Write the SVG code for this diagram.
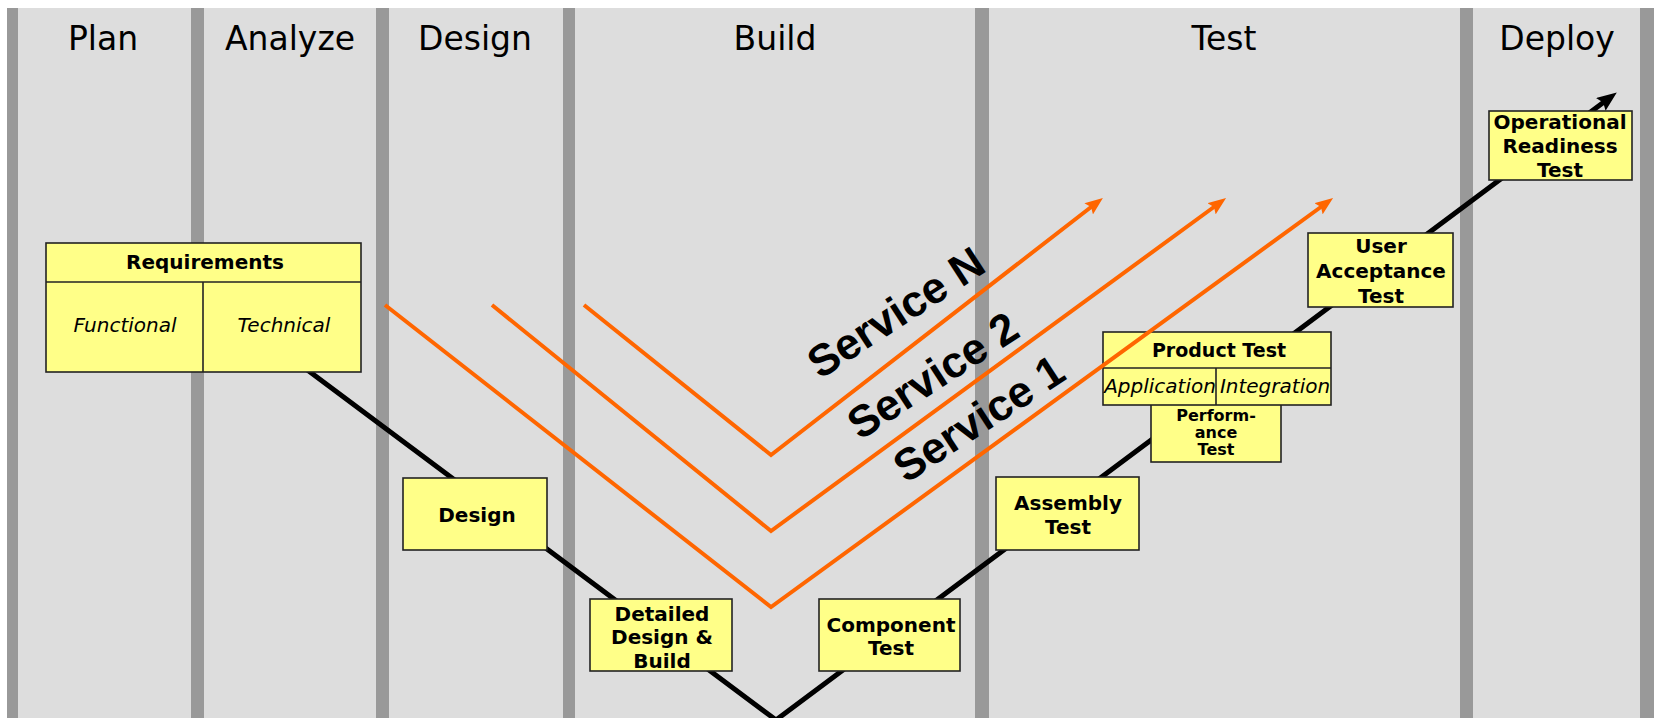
<svg xmlns="http://www.w3.org/2000/svg" width="1654" height="718" viewBox="0 0 1654 718">
<defs>
<style>
.bg{fill:#dddddd}
.div{fill:#999999}
.hdr{font-family:"DejaVu Sans",Verdana,sans-serif;font-size:33px;fill:#000;text-anchor:middle}
.box{fill:#ffff88;stroke:#222;stroke-width:1.6}
.sep{stroke:#222;stroke-width:1.6;fill:none}
.lbl{font-family:"DejaVu Sans",Verdana,sans-serif;font-size:20px;font-weight:bold;fill:#000;text-anchor:middle}
.sm{font-size:16px}
.it{font-family:"DejaVu Sans",Verdana,sans-serif;font-size:20px;font-style:italic;fill:#000;text-anchor:middle}
.blk{fill:none;stroke:#000;stroke-width:5;stroke-linejoin:miter}
.org{fill:none;stroke:#ff6600;stroke-width:4;stroke-linejoin:miter;stroke-miterlimit:10}
.svc{font-family:"Liberation Sans",Arial,sans-serif;font-size:44px;font-weight:bold;fill:#000;text-anchor:middle}
</style>
<marker id="ahO" markerUnits="userSpaceOnUse" viewBox="0 0 18 14" refX="8" refY="7" markerWidth="18" markerHeight="14" orient="auto">
<path d="M0,0 L18,7 L0,14 L3,7 Z" fill="#ff6600"/>
</marker>
<marker id="ahB" markerUnits="userSpaceOnUse" viewBox="0 0 20 16" refX="9" refY="8" markerWidth="20" markerHeight="16" orient="auto">
<path d="M0,0 L20,8 L0,16 L3,8 Z" fill="#000"/>
</marker>
</defs>
<rect x="0" y="0" width="1654" height="718" fill="#ffffff"/>
<g id="lanes">
<rect class="bg" x="7" y="8" width="1647" height="710"/>
<rect class="div" x="7" y="8" width="11" height="710"/>
<rect class="div" x="191" y="8" width="13" height="710"/>
<rect class="div" x="376" y="8" width="13" height="710"/>
<rect class="div" x="563" y="8" width="12" height="710"/>
<rect class="div" x="975" y="8" width="14" height="710"/>
<rect class="div" x="1460" y="8" width="13" height="710"/>
<rect class="div" x="1640" y="8" width="14" height="710"/>
<text class="hdr" x="103" y="50">Plan</text>
<text class="hdr" x="290" y="50">Analyze</text>
<text class="hdr" x="475" y="50">Design</text>
<text class="hdr" x="775" y="50">Build</text>
<text class="hdr" x="1224" y="50">Test</text>
<text class="hdr" x="1557" y="50">Deploy</text>
</g>
<g id="connectors">
<path class="blk" d="M290,357 L776,720 L1608,99" marker-end="url(#ahB)"/>
</g>
<g id="requirements">
<rect class="box" x="46" y="243" width="315" height="129"/>
<line class="sep" x1="46" y1="282" x2="361" y2="282"/>
<line class="sep" x1="203" y1="282" x2="203" y2="372"/>
<text class="lbl" x="205" y="269">Requirements</text>
<text class="it" x="125" y="332">Functional</text>
<text class="it" x="284" y="332">Technical</text>
</g>
<g id="design">
<rect class="box" x="403" y="478" width="144" height="72"/>
<text class="lbl" x="477" y="522">Design</text>
</g>
<g id="detailed-design-build">
<rect class="box" x="590" y="599" width="142" height="72"/>
<text class="lbl" x="662" y="621">Detailed</text>
<text class="lbl" x="662" y="644">Design &amp;</text>
<text class="lbl" x="662" y="668">Build</text>
</g>
<g id="component-test">
<rect class="box" x="819" y="599" width="141" height="72"/>
<text class="lbl" x="891" y="632">Component</text>
<text class="lbl" x="891" y="655">Test</text>
</g>
<g id="assembly-test">
<rect class="box" x="996" y="477" width="143" height="73"/>
<text class="lbl" x="1068" y="510">Assembly</text>
<text class="lbl" x="1068" y="534">Test</text>
</g>
<g id="performance-test">
<rect class="box" x="1151" y="392" width="130" height="70"/>
<text class="lbl sm" x="1216" y="421">Perform-</text>
<text class="lbl sm" x="1216" y="438">ance</text>
<text class="lbl sm" x="1216" y="455">Test</text>
</g>
<g id="product-test">
<rect class="box" x="1103" y="332" width="228" height="73"/>
<line class="sep" x1="1103" y1="368" x2="1331" y2="368"/>
<line class="sep" x1="1216" y1="368" x2="1216" y2="405"/>
<text class="lbl" style="font-size:19px" x="1219" y="357">Product Test</text>
<text class="it" x="1160" y="393">Application</text>
<text class="it" x="1275" y="393">Integration</text>
</g>
<g id="user-acceptance-test">
<rect class="box" x="1308" y="233" width="145" height="74"/>
<text class="lbl" x="1381" y="253">User</text>
<text class="lbl" x="1381" y="278">Acceptance</text>
<text class="lbl" x="1381" y="303">Test</text>
</g>
<g id="operational-readiness-test">
<rect class="box" x="1489" y="111" width="143" height="69"/>
<text class="lbl" x="1560" y="129">Operational</text>
<text class="lbl" x="1560" y="153">Readiness</text>
<text class="lbl" x="1560" y="177">Test</text>
</g>
<g id="service-connectors">
<path class="org" d="M385,305 L771,607 L1325,204" marker-end="url(#ahO)"/>
<path class="org" d="M492,305 L771,531 L1218,204" marker-end="url(#ahO)"/>
<path class="org" d="M584,305 L771,455 L1095,204" marker-end="url(#ahO)"/>
</g>
<g id="service-labels">
<text class="svc" x="904" y="325" transform="rotate(-33 904 325)">Service N</text>
<text class="svc" x="941" y="388" transform="rotate(-33 941 388)">Service 2</text>
<text class="svc" x="987" y="431" transform="rotate(-33 987 431)">Service 1</text>
</g>
</svg>
